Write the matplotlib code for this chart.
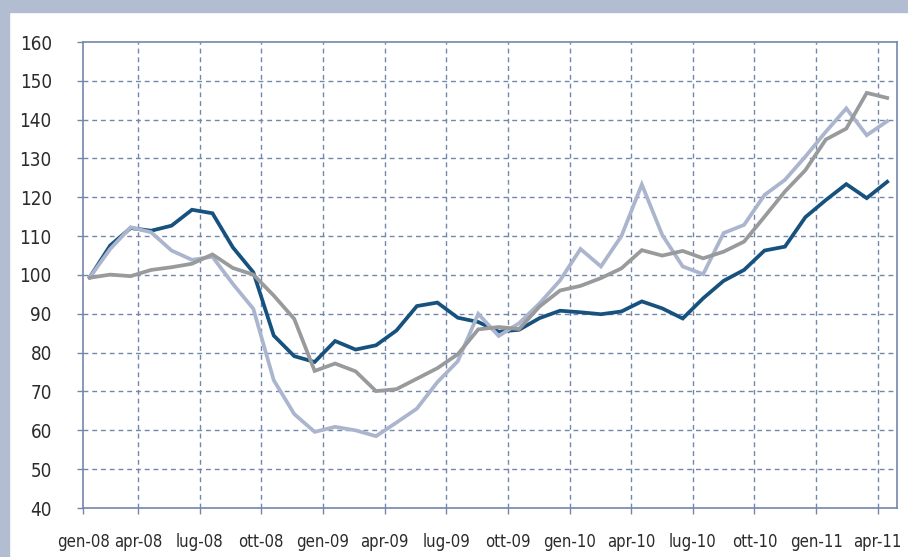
import matplotlib
matplotlib.use('Agg')
import matplotlib.pyplot as plt
from matplotlib.patches import Rectangle

plt.rcParams['font.family'] = ['DejaVu Sans']
plt.rcParams['font.stretch'] = 'condensed'

# monthly index values, gen-08 .. apr-11 (40 months)
months = list(range(40))

serie_scura = [99.4, 107.6, 112.1, 111.4, 112.7, 116.8, 115.9, 107.1, 100.7, 84.4,
               79.1, 77.6, 83.0, 80.8, 81.9, 85.7, 92.0, 92.9, 89.0, 87.9,
               85.4, 85.9, 88.9, 90.8, 90.4, 89.9, 90.6, 93.2, 91.4, 88.8,
               94.0, 98.5, 101.3, 106.3, 107.3, 114.9, 119.3, 123.4, 119.8, 124.0]

serie_grigia = [99.3, 100.1, 99.7, 101.3, 102.0, 102.9, 105.3, 101.8, 100.1, 94.7,
                88.7, 75.3, 77.2, 75.2, 70.1, 70.6, 73.3, 76.0, 79.6, 86.0,
                86.6, 86.1, 91.9, 96.0, 97.2, 99.2, 101.7, 106.4, 105.0, 106.2,
                104.3, 106.0, 108.6, 115.0, 121.5, 127.0, 134.9, 137.7, 146.9, 145.6]

serie_chiara = [99.4, 106.7, 112.3, 111.0, 106.3, 103.9, 104.7, 97.7, 91.3, 72.9,
                64.2, 59.6, 60.9, 60.0, 58.5, 62.0, 65.6, 72.4, 77.8, 90.0,
                84.3, 87.6, 92.7, 98.6, 106.7, 102.2, 110.0, 123.3, 110.3, 102.2,
                100.2, 110.8, 112.9, 120.6, 124.5, 130.5, 136.9, 142.9, 136.0, 139.6]

tick_labels = ['gen-08', 'apr-08', 'lug-08', 'ott-08', 'gen-09', 'apr-09', 'lug-09',
               'ott-09', 'gen-10', 'apr-10', 'lug-10', 'ott-10', 'gen-11', 'apr-11']
tick_pos = [-0.33] + [2.36 + 3.015 * k for k in range(13)]

grid_col = '#7486ab'
txt_col = '#2b2b2b'

fig = plt.figure(figsize=(9.08, 5.57), dpi=100, facecolor='white')
# light blue frame on top and left
fig.patches.append(Rectangle((0, 1 - 12 / 557), 1, 12 / 557, transform=fig.transFigure,
                             color='#b3bdd2', zorder=0))
fig.patches.append(Rectangle((0, 0), 9 / 908, 1, transform=fig.transFigure,
                             color='#b3bdd2', zorder=0))

ax = fig.add_axes([83 / 908, 1 - 508 / 557, (897 - 83) / 908, (508 - 42) / 557])
ax.set_facecolor('white')

ax.plot(months, serie_scura, color='#17527f', lw=2.7, zorder=3, solid_joinstyle='miter')
ax.plot(months, serie_chiara, color='#abb5cd', lw=2.7, zorder=4, solid_joinstyle='miter')
ax.plot(months, serie_grigia, color='#999a9c', lw=2.7, zorder=5, solid_joinstyle='miter')

ax.set_xlim(-0.33, 39.48)
ax.set_ylim(40, 160)
ax.set_yticks(range(40, 161, 10))
ax.set_xticks(tick_pos)
ax.set_xticklabels(tick_labels)

for y in range(50, 160, 10):
    ax.axhline(y, color=grid_col, lw=1, dashes=(3.5, 2.8), zorder=1)
for x in tick_pos[1:]:
    ax.axvline(x, color=grid_col, lw=1, dashes=(3.5, 2.8), zorder=1)

for s in ax.spines.values():
    s.set_color(grid_col)
    s.set_linewidth(1.2)

ax.tick_params(axis='y', direction='out', length=4.5, width=1, color=grid_col,
               pad=18, labelsize=13.5, labelcolor=txt_col)
ax.tick_params(axis='x', direction='out', length=4, width=1, color=grid_col,
               pad=14, labelsize=12, labelcolor=txt_col)

fig.savefig('out.png', dpi=100, facecolor='white')
